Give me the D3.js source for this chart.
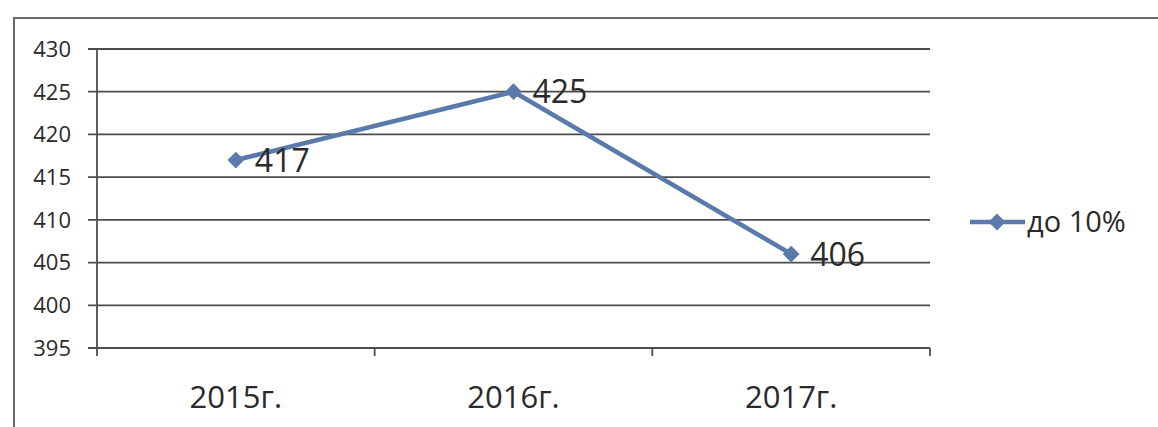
<!DOCTYPE html>
<html>
<head>
<meta charset="utf-8">
<script src="https://d3js.org/d3.v7.min.js"></script>
<style>
  body { margin: 0; background: #fff; }
  text { font-family: "Open Sans", sans-serif; fill: #2a2a2a; }
</style>
</head>
<body>
<div id="chart"></div>
<script>
// data
var years = ["2015г.", "2016г.", "2017г."];
var values = [417, 425, 406];
var yTicks = [395, 400, 405, 410, 415, 420, 425, 430];
var seriesName = "до 10%";

var W = 1158, H = 427;
var lineColor = "#5a7aab";

var svg = d3.select("#chart").append("svg")
  .attr("width", W)
  .attr("height", H);

// outer frame of the chart
svg.append("rect")
  .attr("x", 14).attr("y", 18)
  .attr("width", W + 10).attr("height", H + 10)
  .attr("fill", "none")
  .attr("stroke", "#6a6a6a")
  .attr("stroke-width", 2);

var x = d3.scaleBand().domain(years).range([97, 930]);
var y = d3.scaleLinear().domain([395, 430]).range([348, 49]);

// gridlines + y tick labels
var gy = svg.append("g");
gy.selectAll("line")
  .data(yTicks)
  .enter().append("line")
  .attr("x1", 88).attr("x2", 930)
  .attr("y1", d => y(d)).attr("y2", d => y(d))
  .attr("stroke", "#4d4d4d")
  .attr("stroke-width", 1.8);
gy.selectAll("text")
  .data(yTicks)
  .enter().append("text")
  .attr("x", 71)
  .attr("y", d => y(d))
  .attr("dy", "0.36em")
  .attr("text-anchor", "end")
  .style("font-size", "22px")
  .text(d => d);

// y axis line
svg.append("line")
  .attr("x1", 97).attr("x2", 97)
  .attr("y1", y(430)).attr("y2", y(395) + 8)
  .attr("stroke", "#4d4d4d").attr("stroke-width", 1.8);

// x axis ticks at band edges
var edges = years.map(d => x(d)).concat([x(years[years.length - 1]) + x.bandwidth()]);
svg.selectAll(".xtick")
  .data(edges.slice(1))
  .enter().append("line")
  .attr("class", "xtick")
  .attr("x1", d => d).attr("x2", d => d)
  .attr("y1", y(395)).attr("y2", y(395) + 8)
  .attr("stroke", "#4d4d4d").attr("stroke-width", 1.8);

svg.selectAll(".xlabel")
  .data(years)
  .enter().append("text")
  .attr("class", "xlabel")
  .attr("x", d => x(d) + x.bandwidth() / 2)
  .attr("y", 408)
  .attr("text-anchor", "middle")
  .style("font-size", "31px")
  .text(d => d);

// series line
var line = d3.line()
  .x((d, i) => x(years[i]) + x.bandwidth() / 2)
  .y(d => y(d));

svg.append("path")
  .datum(values)
  .attr("d", line)
  .attr("fill", "none")
  .attr("stroke", lineColor)
  .attr("stroke-width", 4.5);

var diamond = d3.symbol().type(d3.symbolDiamond2).size(180);
svg.selectAll(".pt")
  .data(values)
  .enter().append("path")
  .attr("class", "pt")
  .attr("d", diamond)
  .attr("transform", (d, i) => "translate(" + (x(years[i]) + x.bandwidth() / 2) + "," + y(d) + ")")
  .attr("fill", lineColor);

svg.selectAll(".vlabel")
  .data(values)
  .enter().append("text")
  .attr("class", "vlabel")
  .attr("x", (d, i) => x(years[i]) + x.bandwidth() / 2 + 19)
  .attr("y", d => y(d))
  .attr("dy", "0.36em")
  .style("font-size", "32px")
  .text(d => d);

// legend
var lg = svg.append("g").attr("transform", "translate(970,222)");
lg.append("line")
  .attr("x1", 0).attr("x2", 55)
  .attr("stroke", lineColor).attr("stroke-width", 4.5);
lg.append("path")
  .attr("d", diamond)
  .attr("transform", "translate(27,0)")
  .attr("fill", lineColor);
lg.append("text")
  .attr("x", 57)
  .attr("dy", "0.36em")
  .style("font-size", "29px")
  .text(seriesName);
</script>
</body>
</html>
